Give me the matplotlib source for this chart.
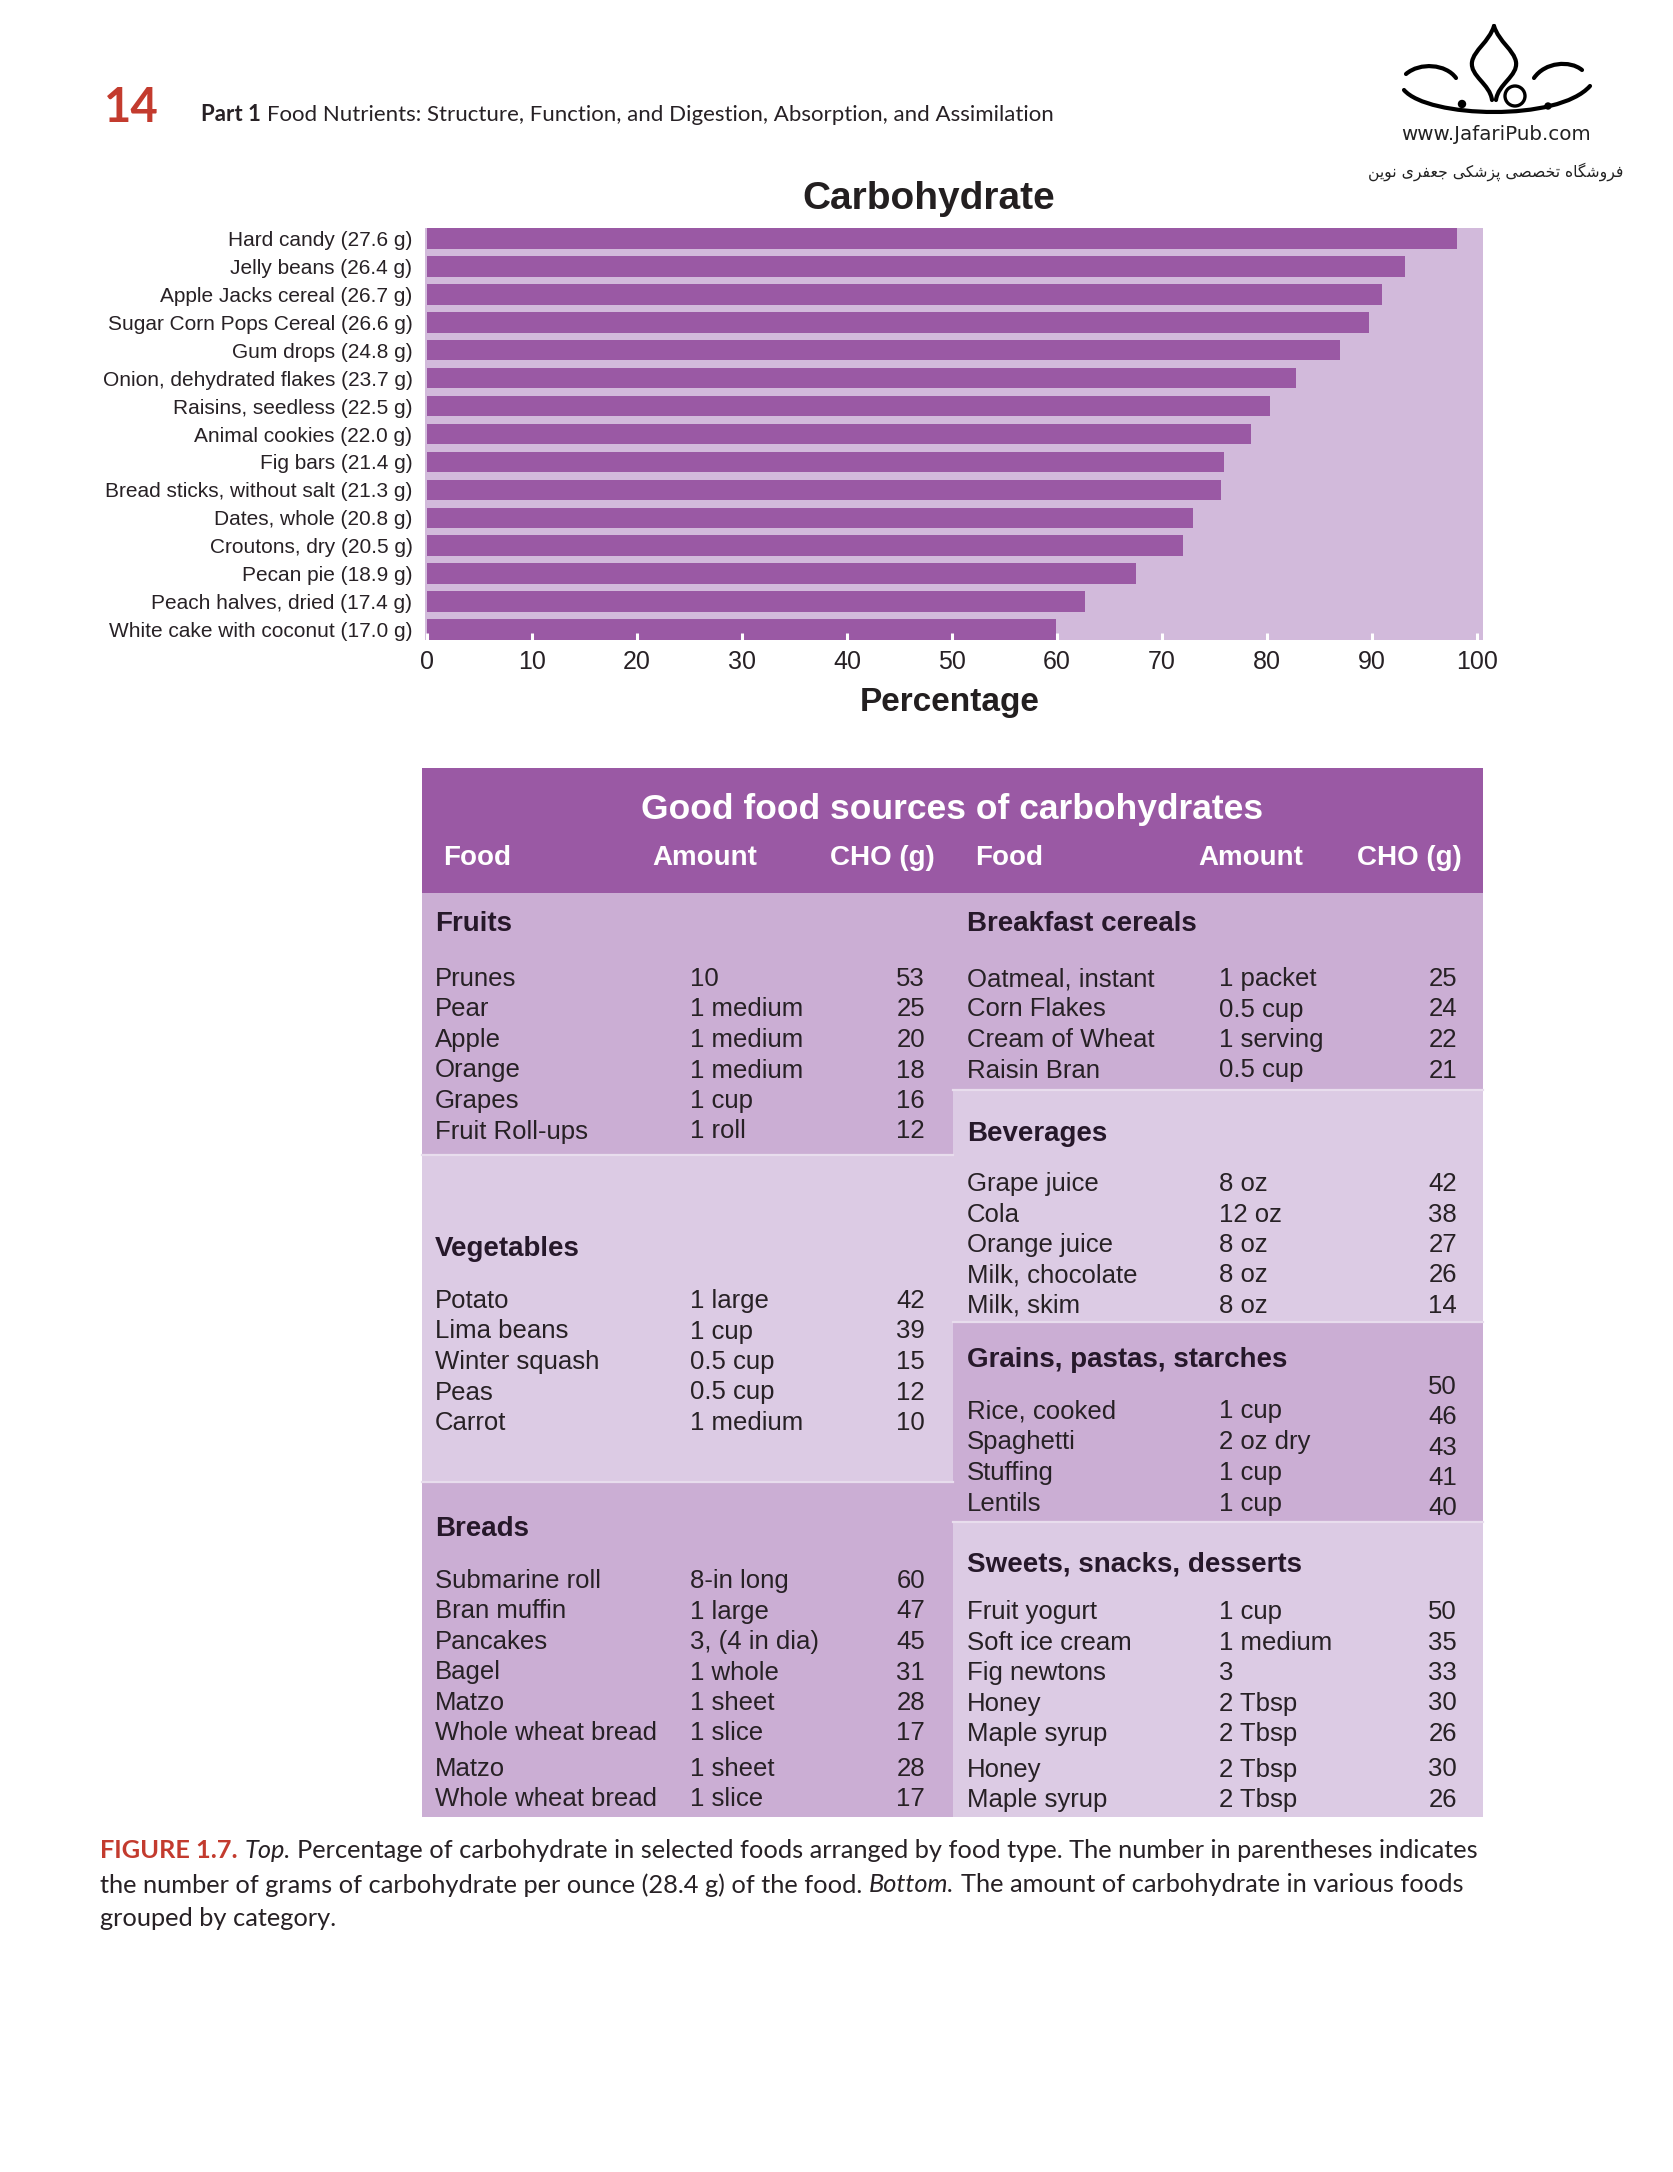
import numpy as np
import matplotlib
matplotlib.use("Agg")
import matplotlib.pyplot as plt
from matplotlib.patches import Rectangle, Circle, PathPatch
from matplotlib.path import Path

W, H = 1673, 2172

# ---------------- data ----------------
chart_labels = ["Hard candy (27.6 g)", "Jelly beans (26.4 g)", "Apple Jacks cereal (26.7 g)",
                "Sugar Corn Pops Cereal (26.6 g)", "Gum drops (24.8 g)",
                "Onion, dehydrated flakes (23.7 g)", "Raisins, seedless (22.5 g)",
                "Animal cookies (22.0 g)", "Fig bars (21.4 g)",
                "Bread sticks, without salt (21.3 g)", "Dates, whole (20.8 g)",
                "Croutons, dry (20.5 g)", "Pecan pie (18.9 g)",
                "Peach halves, dried (17.4 g)", "White cake with coconut (17.0 g)"]
chart_pct = [98.1, 93.2, 91.0, 89.7, 87.0, 82.8, 80.3, 78.5, 75.9, 75.6, 73.0, 72.0, 67.5, 62.7, 59.9]
x_ticks = [0, 10, 20, 30, 40, 50, 60, 70, 80, 90, 100]

col_heads = ["Food", "Amount", "CHO (g)"]

fruits = [("Prunes", "10", "53"), ("Pear", "1 medium", "25"), ("Apple", "1 medium", "20"),
          ("Orange", "1 medium", "18"), ("Grapes", "1 cup", "16"), ("Fruit Roll-ups", "1 roll", "12")]
vegetables = [("Potato", "1 large", "42"), ("Lima beans", "1 cup", "39"),
              ("Winter squash", "0.5 cup", "15"), ("Peas", "0.5 cup", "12"), ("Carrot", "1 medium", "10")]
breads = [("Submarine roll", "8-in long", "60"), ("Bran muffin", "1 large", "47"),
          ("Pancakes", "3, (4 in dia)", "45"), ("Bagel", "1 whole", "31"), ("Matzo", "1 sheet", "28"),
          ("Whole wheat bread", "1 slice", "17"), ("Matzo", "1 sheet", "28"),
          ("Whole wheat bread", "1 slice", "17")]
cereals = [("Oatmeal, instant", "1 packet", "25"), ("Corn Flakes", "0.5 cup", "24"),
           ("Cream of Wheat", "1 serving", "22"), ("Raisin Bran", "0.5 cup", "21")]
beverages = [("Grape juice", "8 oz", "42"), ("Cola", "12 oz", "38"), ("Orange juice", "8 oz", "27"),
             ("Milk, chocolate", "8 oz", "26"), ("Milk, skim", "8 oz", "14")]
grains_food = ["Rice, cooked", "Spaghetti", "Stuffing", "Lentils"]
grains_amount = ["1 cup", "2 oz dry", "1 cup", "1 cup"]
grains_cho = ["50", "46", "43", "41", "40"]
sweets = [("Fruit yogurt", "1 cup", "50"), ("Soft ice cream", "1 medium", "35"),
          ("Fig newtons", "3", "33"), ("Honey", "2 Tbsp", "30"), ("Maple syrup", "2 Tbsp", "26"),
          ("Honey", "2 Tbsp", "30"), ("Maple syrup", "2 Tbsp", "26")]

# colours
PURPLE = '#9a59a4'
CHART_BG = '#d2badb'
MED = '#cbaed4'
LIGHT = '#dccbe4'
TXT = '#272125'
RED = '#c33b2e'

plt.rcParams['font.family'] = ['Liberation Sans', 'DejaVu Sans']

fig = plt.figure(figsize=(W / 100, H / 100), dpi=100)
page = fig.add_axes([0, 0, 1, 1])
page.set_xlim(0, W)
page.set_ylim(H, 0)
page.axis('off')
page.patch.set_visible(False)
renderer = fig.canvas.get_renderer()


def text_width(s, **kw):
    t = page.text(0, 0, s, **kw)
    w = t.get_window_extent(renderer).width
    t.remove()
    return w


def draw_runs(x, y, parts, size, family, va='baseline'):
    sp = text_width('x x', fontsize=size, family=family) - text_width('xx', fontsize=size, family=family)
    cx = x
    for s, kw in parts:
        t = page.text(cx, y, s, fontsize=size, family=family, ha='left', va=va, **kw)
        cx += t.get_window_extent(renderer).width + sp
    return cx - sp


def fit_size(parts, base, family, target):
    sp = text_width('x x', fontsize=base, family=family) - text_width('xx', fontsize=base, family=family)
    w = sum(text_width(s, fontsize=base, family=family, **kw) for s, kw in parts) + sp * (len(parts) - 1)
    return base * target / w


# ---------------- page header ----------------
CAP_FONT = 'Lato'
page.text(104, 122, "14", fontsize=34, family=CAP_FONT, fontweight='bold', color=RED, va='baseline')
head_parts = [("Part 1", dict(fontweight='bold', color=TXT)),
              ("Food Nutrients: Structure, Function, and Digestion, Absorption, and Assimilation",
               dict(color=TXT))]
hs = fit_size(head_parts, 16, CAP_FONT, 853)
draw_runs(201, 121, head_parts, hs, CAP_FONT)

# logo (rough sketch) + texts
logo_paths = [
    [(1494, 26), (1489, 42), (1474, 50), (1472, 62), (1470, 76), (1490, 84), (1492, 100)],
    [(1494, 26), (1499, 42), (1514, 50), (1516, 62), (1518, 76), (1498, 84), (1496, 100)],
    [(1406, 74), (1420, 62), (1446, 64), (1456, 78)],
    [(1582, 70), (1570, 60), (1545, 62), (1534, 78)],
    [(1404, 90), (1428, 118), (1558, 122), (1590, 86)],
]
for pts in logo_paths:
    codes = [Path.MOVETO] + [Path.CURVE4] * (len(pts) - 1)
    page.add_patch(PathPatch(Path(pts, codes), fill=False, lw=3.0, color='black', capstyle='round'))
page.add_patch(Circle((1515, 96), 10, fill=False, lw=2.4, color='black'))
page.add_patch(Circle((1462, 104), 3.5, color='black'))
page.add_patch(Circle((1548, 106), 3.0, color='black'))

ls = fit_size([("www.JafariPub.com", {})], 15, 'DejaVu Sans', 190)
page.text(1496, 134, "www.JafariPub.com", fontsize=ls, family='DejaVu Sans', ha='center', va='center',
          color='#222222')
# Persian shop name, pre-shaped (presentation forms, visual order)
fa_text = ("\uFEE6\uFBFE\uFEEE\uFEE7 \uFBFC\uFEAE\uFED4\uFECC\uFE9F \uFBFD\uFB91\uFEB7\uFEB0\uFB58 "
           "\uFBFD\uFEBC\uFEBC\uFEA8\uFE97 \uFEE9\uFE8E\uFB95\uFEB7\uFEED\uFEAE\uFED3")
fs = fit_size([(fa_text, {})], 12, 'DejaVu Sans', 255)
page.text(1496, 172, fa_text, fontsize=fs, family='DejaVu Sans', ha='center', va='center', color='#222222')

# ---------------- bar chart ----------------
ax_l, ax_r, ax_t, ax_b = 425, 1483, 228, 640
ax = fig.add_axes([ax_l / W, 1 - ax_b / H, (ax_r - ax_l) / W, (ax_b - ax_t) / H])
ax.set_facecolor(CHART_BG)
ypos = np.arange(len(chart_labels))
ax.barh(ypos, chart_pct, height=0.74, color=PURPLE)
ax.set_ylim(len(chart_labels) - 1 + 0.37, -0.37)
ax.set_xlim(-0.2, 100.6)
ax.set_yticks(ypos)
ax.set_yticklabels(chart_labels, fontsize=15, color=TXT)
ax.set_xticks(x_ticks)
ax.set_xticklabels([str(v) for v in x_ticks], fontsize=18, color=TXT)
ax.tick_params(axis='x', direction='in', length=5, width=2.2, color='white', pad=7)
ax.tick_params(axis='y', length=0, pad=9)
for s in ax.spines.values():
    s.set_visible(False)

page.text(929, 199, "Carbohydrate", fontsize=28, fontweight='bold', ha='center', va='center', color='#231f20')
page.text(950, 703, "Percentage", fontsize=24, fontweight='bold', ha='center', va='center', color='#231f20')

# ---------------- table ----------------
T_L, T_R, T_T, T_B = 422, 1483, 768, 1817
MID = 953
HEAD_B = 893
page.add_patch(Rectangle((T_L, T_T), T_R - T_L, HEAD_B - T_T, color=PURPLE, lw=0))
page.text((T_L + T_R) / 2, 809, "Good food sources of carbohydrates", fontsize=25.5, fontweight='bold',
          color='white', ha='center', va='center')
for x0, xs in [(0, (443, 652, 830)), (1, (975, 1198, 1357))]:
    for h, xh in zip(col_heads, xs):
        page.text(xh, 858, h, fontsize=20, fontweight='bold', color='white', ha='left', va='center')

# blocks: (x0, x1, top, bottom, colour)
blocks = [(T_L, MID, HEAD_B, 1155, MED), (T_L, MID, 1155, 1482, LIGHT), (T_L, MID, 1482, T_B, MED),
          (MID, T_R, HEAD_B, 1090, MED), (MID, T_R, 1090, 1322, LIGHT), (MID, T_R, 1322, 1522, MED),
          (MID, T_R, 1522, T_B, LIGHT)]
for x0, x1, y0, y1, c in blocks:
    page.add_patch(Rectangle((x0, y0), x1 - x0, y1 - y0, color=c, lw=0))
for x0, x1, y0, y1, c in blocks:
    if y0 != HEAD_B:
        page.plot([x0, x1], [y0, y0], color='#e8dded', lw=1.6)

LEFT_X = (435, 690, 925)
RIGHT_X = (967, 1219, 1457)
PITCH = 30.5
BODY = 18.5
SEC = 20


def row_ys(y0, n, gap_after=None, gap=5):
    ys = []
    for i in range(n):
        y = y0 + i * PITCH
        if gap_after is not None and i > gap_after:
            y += gap
        ys.append(y)
    return ys


def section(cols, title, title_y, rows, y0, gap_after=None):
    page.text(cols[0], title_y, title, fontsize=SEC, fontweight='bold', color='#26182a', va='center')
    for (food, amt, cho), y in zip(rows, row_ys(y0, len(rows), gap_after)):
        page.text(cols[0], y, food, fontsize=BODY, color=TXT, va='center')
        page.text(cols[1], y, amt, fontsize=BODY, color=TXT, va='center')
        page.text(cols[2], y, cho, fontsize=BODY, color=TXT, va='center', ha='right')


section(LEFT_X, "Fruits", 924, fruits, 979)
section(LEFT_X, "Vegetables", 1249, vegetables, 1301)
section(LEFT_X, "Breads", 1529, breads, 1581, gap_after=5)
section(RIGHT_X, "Breakfast cereals", 924, cereals, 979)
section(RIGHT_X, "Beverages", 1134, beverages, 1184)
section(RIGHT_X, "Sweets, snacks, desserts", 1564, sweets, 1612, gap_after=4)

# grains: values column sits out of step with the names
page.text(RIGHT_X[0], 1360, "Grains, pastas, starches", fontsize=SEC, fontweight='bold', color='#26182a',
          va='center')
for i, (food, amt) in enumerate(zip(grains_food, grains_amount)):
    y = 1411 + i * 31
    page.text(RIGHT_X[0], y, food, fontsize=BODY, color=TXT, va='center')
    page.text(RIGHT_X[1], y, amt, fontsize=BODY, color=TXT, va='center')
for i, cho in enumerate(grains_cho):
    page.text(RIGHT_X[2], 1387 + i * 30.3, cho, fontsize=BODY, color=TXT, va='center', ha='right')

# ---------------- caption ----------------
cap1 = [("FIGURE 1.7.", dict(fontweight='bold', color=RED)),
        ("Top.", dict(style='italic', color=TXT)),
        ("Percentage of carbohydrate in selected foods arranged by food type. The number in parentheses indicates",
         dict(color=TXT))]
cap2 = [("the number of grams of carbohydrate per ounce (28.4 g) of the food.", dict(color=TXT)),
        ("Bottom.", dict(style='italic', color=TXT)),
        ("The amount of carbohydrate in various foods", dict(color=TXT))]
cap3 = [("grouped by category.", dict(color=TXT))]
cs = fit_size(cap1, 17, CAP_FONT, 1375)
draw_runs(100, 1851, cap1, cs, CAP_FONT, va='center')
draw_runs(100, 1885, cap2, cs, CAP_FONT, va='center')
draw_runs(100, 1919, cap3, cs, CAP_FONT, va='center')

fig.savefig("out.png", dpi=100, facecolor='white')
